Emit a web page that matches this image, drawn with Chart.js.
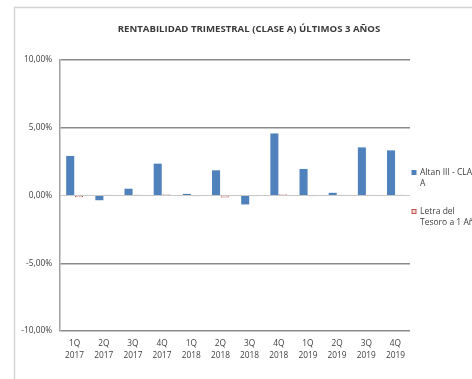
<!DOCTYPE html>
<html>
<head>
<meta charset="utf-8">
<script src="https://cdn.jsdelivr.net/npm/chart.js@4/dist/chart.umd.min.js"></script>
<style>
  html, body { margin: 0; padding: 0; background: #fff; }
  #wrap { position: relative; width: 472px; height: 379px; overflow: hidden; }
  canvas { display: block; }
</style>
</head>
<body>
<div id="wrap"><canvas id="c" width="472" height="379"></canvas></div>
<script>
// Quarterly returns, in percent
const quarters = ["1Q", "2Q", "3Q", "4Q", "1Q", "2Q", "3Q", "4Q", "1Q", "2Q", "3Q", "4Q"];
const years = ["2017", "2017", "2017", "2017", "2018", "2018", "2018", "2018", "2019", "2019", "2019", "2019"];
const altanValues = [2.92, -0.35, 0.50, 2.35, 0.12, 1.86, -0.66, 4.58, 1.96, 0.20, 3.55, 3.33];
const letraValues = [-0.12, 0.05, 0.05, 0.10, -0.05, -0.15, -0.05, 0.10, -0.05, 0.05, 0.06, 0.05];
const yTicks = [-10, -5, 0, 5, 10];
const titleText = "RENTABILIDAD TRIMESTRAL (CLASE A) ÚLTIMOS 3 AÑOS";
const legendItems = [
  { lines: ["Altan III - CLASE", "A"], fill: "#4f81bd", stroke: "#4f81bd" },
  { lines: ["Letra del", "Tesoro a 1 Año"], fill: "#f2dcdb", stroke: "#c0504d" }
];

const labels = quarters.map((q, i) => [q, years[i]]);
const FONT = "'Open Sans', 'Liberation Sans', sans-serif";

function fmtPct(v) {
  return v.toFixed(2).replace(".", ",") + "%";
}

// Frame, title and side legend
const decor = {
  id: "decor",
  beforeDraw(chart) {
    const ctx = chart.ctx;
    ctx.save();
    ctx.fillStyle = "#ffffff";
    ctx.fillRect(0, 0, chart.width, chart.height);
    ctx.strokeStyle = "#d4d4d4";
    ctx.lineWidth = 1.5;
    ctx.strokeRect(14.5, 7.5, 520, 420);
    ctx.restore();
  },
  afterDraw(chart) {
    const ctx = chart.ctx;
    ctx.save();
    ctx.fillStyle = "#3a3a3a";
    ctx.font = "bold 9.6px " + FONT;
    ctx.textAlign = "center";
    ctx.textBaseline = "middle";
    ctx.fillText(titleText, 249, 29);

    ctx.font = "8.5px " + FONT;
    ctx.textAlign = "left";
    const tops = [172.5, 211.5];
    legendItems.forEach((item, i) => {
      const y = tops[i];
      ctx.fillStyle = item.fill;
      ctx.fillRect(412, y - 2, 4, 4);
      ctx.strokeStyle = item.stroke;
      ctx.lineWidth = 1;
      ctx.strokeRect(412, y - 2, 4, 4);
      ctx.fillStyle = "#404040";
      item.lines.forEach((ln, k) => ctx.fillText(ln, 420, y + k * 11.5));
    });
    ctx.restore();
  }
};

new Chart(document.getElementById("c"), {
  type: "bar",
  data: {
    labels: labels,
    datasets: [
      {
        label: "Altan III - CLASE A",
        data: altanValues,
        backgroundColor: "#4f81bd",
        borderColor: "#4f81bd",
        borderWidth: 0
      },
      {
        label: "Letra del Tesoro a 1 Año",
        data: letraValues,
        backgroundColor: "#f2dcdb",
        borderColor: "#c0504d",
        borderWidth: 1
      }
    ]
  },
  options: {
    responsive: false,
    animation: false,
    devicePixelRatio: 1,
    layout: { padding: { left: 14, right: 62, top: 60, bottom: 0 } },
    datasets: { bar: { categoryPercentage: 0.6, barPercentage: 0.92 } },
    plugins: {
      legend: { display: false },
      title: { display: false },
      tooltip: { enabled: false }
    },
    scales: {
      x: {
        grid: { display: false, drawTicks: false },
        border: { display: false },
        ticks: {
          color: "#404040",
          font: { family: FONT, size: 8.3, lineHeight: 1.45 },
          padding: 7,
          maxRotation: 0,
          autoSkip: false
        },
        afterFit(scale) { scale.height = 48; }
      },
      y: {
        min: -10,
        max: 10,
        afterBuildTicks(scale) { scale.ticks = yTicks.map(v => ({ value: v })); },
        grid: {
          drawTicks: false,
          color: ctx => (ctx.tick && ctx.tick.value === 0) ? "#c8c8c8" : "#8a8a8a",
          lineWidth: ctx => (ctx.tick && ctx.tick.value === 0) ? 1 : 1.5
        },
        border: { display: true, color: "#a0a0a0", width: 1.5 },
        ticks: {
          color: "#404040",
          font: { family: FONT, size: 8.3 },
          padding: 8,
          callback: v => fmtPct(v)
        },
        afterFit(scale) { scale.width = 46; }
      }
    }
  },
  plugins: [decor]
});
</script>
</body>
</html>
